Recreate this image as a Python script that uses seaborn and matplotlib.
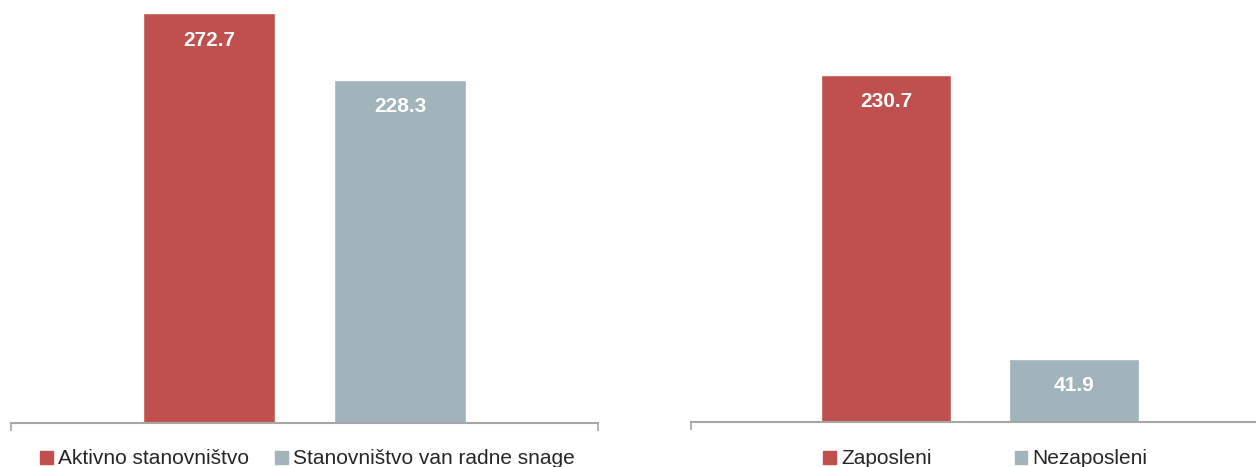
import matplotlib
matplotlib.use('Agg')
import matplotlib.pyplot as plt
import seaborn as sns
import pandas as pd

# Data
left_categories = ['Aktivno stanovništvo', 'Stanovništvo van radne snage']
left_values = [272.7, 228.3]
right_categories = ['Zaposleni', 'Nezaposleni']
right_values = [230.7, 41.9]
colors = ['#C0504D', '#A1B4BB']

sns.set_style('white')
plt.rcParams['font.family'] = ['Liberation Sans', 'DejaVu Sans']

W, H = 1256, 467
fig = plt.figure(figsize=(W / 100, H / 100), dpi=100)

px_per_unit = 1.503


def make_panel(rect_px, categories, values, legend_x, colspacing):
    left, base, right = rect_px
    ax = fig.add_axes([left / W, (H - base) / H, (right - left) / W, base / H])
    df = pd.DataFrame({'cat': categories, 'val': values})
    sns.barplot(data=df, x='cat', y='val', hue='cat', palette=colors,
                width=0.69, ax=ax, legend=False, saturation=1)
    ax.set_ylim(0, base / px_per_unit)
    ax.set_xlim(-1.037, 2.037)
    ax.set_xlabel('')
    ax.set_ylabel('')
    ax.set_yticks([])
    ax.set_xticks([-1.037, 2.037])
    ax.set_xticklabels(['', ''])
    ax.tick_params(axis='x', length=6, width=1.2, color='#A6A6A6', direction='out', bottom=True)
    for s in ['top', 'right', 'left']:
        ax.spines[s].set_visible(False)
    ax.spines['bottom'].set_color('#A6A6A6')
    ax.spines['bottom'].set_linewidth(1.5)

    # value labels inside the top of each bar
    for cont in ax.containers:
        for bar in cont:
            h = bar.get_height()
            ax.annotate(f'{h:.1f}', (bar.get_x() + bar.get_width() / 2, h),
                        xytext=(0, -19.5), textcoords='offset points',
                        ha='center', va='center', color='white',
                        fontsize=15, fontweight='bold')

    handles = [plt.Rectangle((0, 0), 1, 1, color=c) for c in colors]
    fig.legend(handles, categories, loc='center',
               bbox_to_anchor=(legend_x / W, (H - 459) / H),
               ncol=2, frameon=False, fontsize=15,
               handlelength=0.6, handleheight=0.6, handletextpad=0.25,
               columnspacing=colspacing, borderpad=0, borderaxespad=0)
    return ax


make_panel((11, 423, 598), left_categories, left_values, 307.5, 1.25)
make_panel((691, 421.5, 1269), right_categories, right_values, 985.5, 4.0)

fig.savefig('out.png', dpi=100)
